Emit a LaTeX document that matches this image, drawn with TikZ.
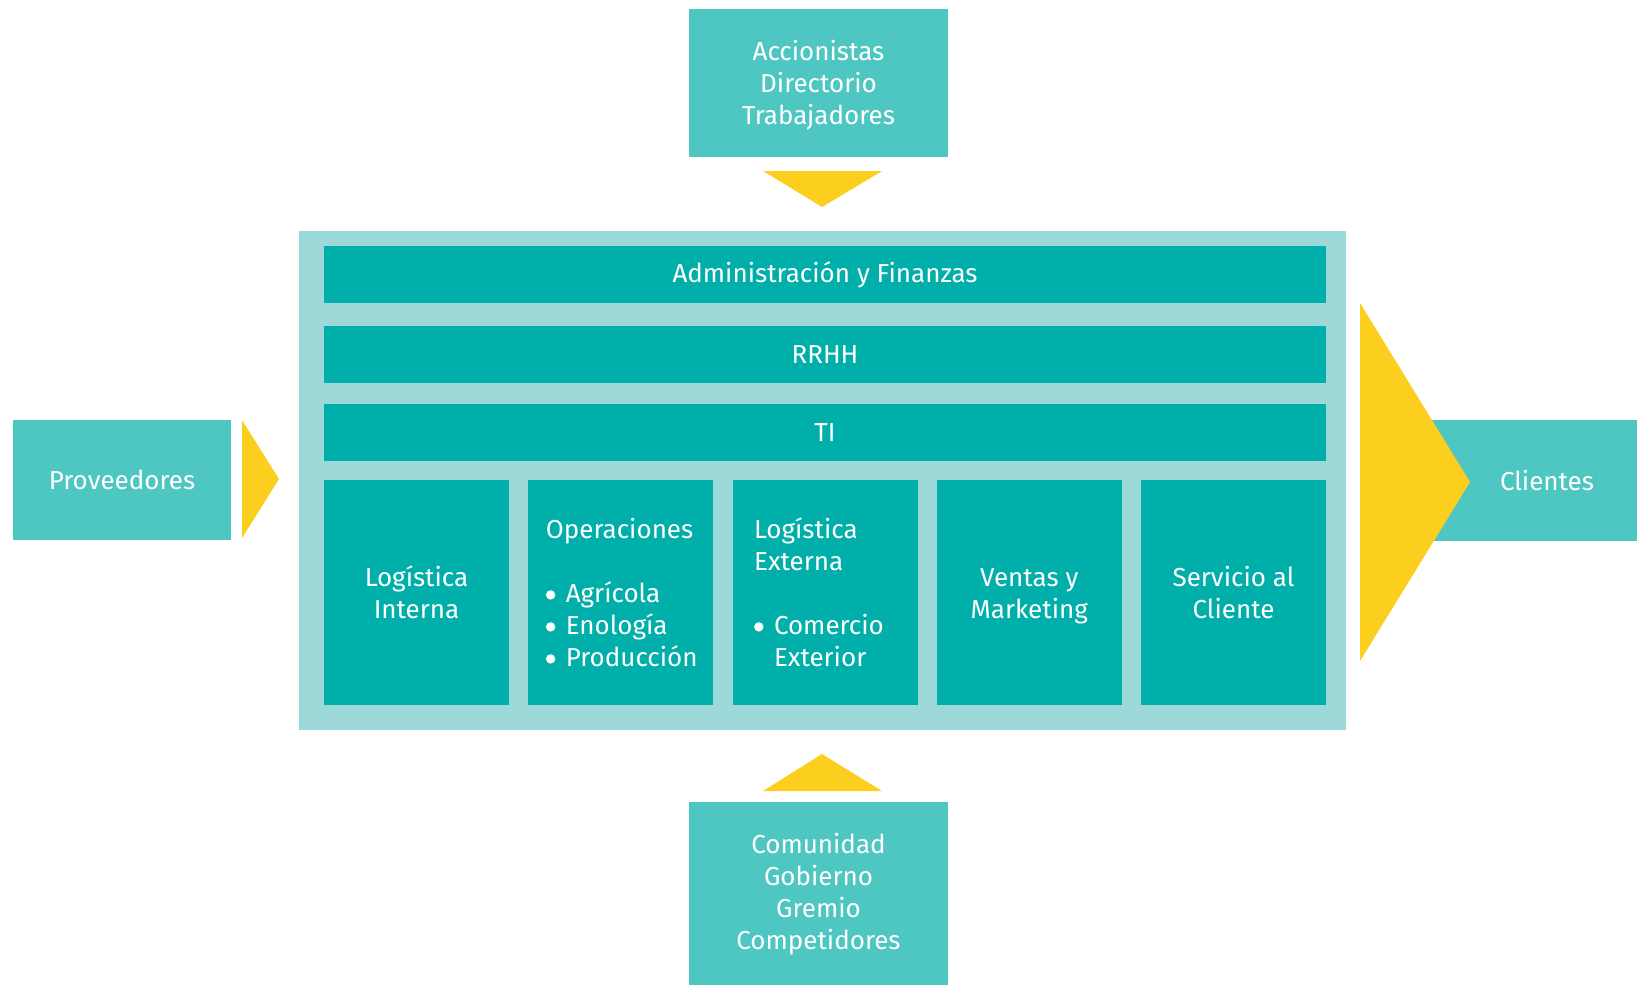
\documentclass[tikz,border=0pt]{standalone}
\usepackage{fontspec}
\setmainfont{Fira Sans}
\definecolor{tealdark}{RGB}{0,175,170}
\definecolor{teallight}{RGB}{157,217,216}
\definecolor{tealmid}{RGB}{78,199,195}
\definecolor{arrowyellow}{RGB}{252,206,30}
\newcommand\mybul{\tikz[x=1pt,y=1pt,baseline=0pt]{\fill[white] (4.7,8) circle (4.7);}\hspace{10.5pt}}
\begin{document}
\begin{tikzpicture}[x=1pt,y=-1pt,
  every node/.style={inner sep=0pt, outer sep=0pt, text=white, font=\fontsize{26}{32}\selectfont},
  outerbox/.style={fill=tealmid, draw=none},
  innerband/.style={fill=tealdark, draw=none, minimum width=1002pt, minimum height=57pt},
  colbox/.style={fill=tealdark, draw=none, minimum width=185pt, minimum height=225pt, align=center},
  bulletbox/.style={fill=tealdark, draw=none, minimum width=185pt, minimum height=225pt},
  arrowfill/.style={fill=arrowyellow, draw=none}]
\useasboundingbox (0,0) rectangle (1637,985);
% frame
\node[fill=teallight, minimum width=1047pt, minimum height=499pt] (frame) at (822.5,480.5) {};
% bands
\node[innerband] (admin) at (825,274.5) {Administración y Finanzas};
\node[innerband] (rrhh) at (825,354.5) {RRHH};
\node[innerband] (ti) at (825,432.5) {TI};
% columns
\node[colbox] (logint) at (416.5,592.5) {Logística\\Interna};
\node[bulletbox] (ops) at (620.75,592.5) {};
\node (opstext) at ([xshift=1pt,yshift=-4pt]ops.center) {\begin{tabular}{@{}l@{}}Operaciones\\[32pt]\mybul Agrícola\\\mybul Enología\\\mybul Producción\end{tabular}};
\node[bulletbox] (logext) at (825,592.5) {};
\node (logexttext) at ([xshift=-6pt,yshift=-4pt]logext.center) {\begin{tabular}{@{}l@{}}Logística\\Externa\\[32pt]\mybul Comercio\\\phantom{\mybul}Exterior\end{tabular}};
\node[colbox] (ventas) at (1029.25,592.5) {};
\node[align=center] (ventastext) at ([yshift=-4pt]ventas.center) {Ventas y\\Marketing};
\node[colbox] (servicio) at (1233.5,592.5) {Servicio al\\Cliente};
% outer boxes
\node[outerbox, minimum width=218pt, minimum height=120pt] (prov) at (122,480) {Proveedores};
\node[outerbox, minimum width=227pt, minimum height=121pt] (clbox) at (1523.5,480.5) {};
\node (clientes) at (1547,480.5) {Clientes};
\node[outerbox, minimum width=259pt, minimum height=148pt] (top) at (818.5,83) {};
\node[align=center] (toptext) at ([yshift=-2.5pt]top.center) {Accionistas\\Directorio\\Trabajadores};
\node[outerbox, minimum width=259pt, minimum height=183pt] (bottom) at (818.5,893.5) {};
\node[align=center] (bottomtext) at ([yshift=-1pt]bottom.center) {Comunidad\\Gobierno\\Gremio\\Competidores};
% arrows
\fill[arrowfill] (242,420) -- (279,479) -- (242,538) -- cycle;
\fill[arrowfill] (1360,303) -- (1470,482) -- (1360,661) -- cycle;
\fill[arrowfill] (763,171) -- (882,171) -- (822,207) -- cycle;
\fill[arrowfill] (763,791) -- (882,791) -- (822,754) -- cycle;
\end{tikzpicture}
\end{document}
